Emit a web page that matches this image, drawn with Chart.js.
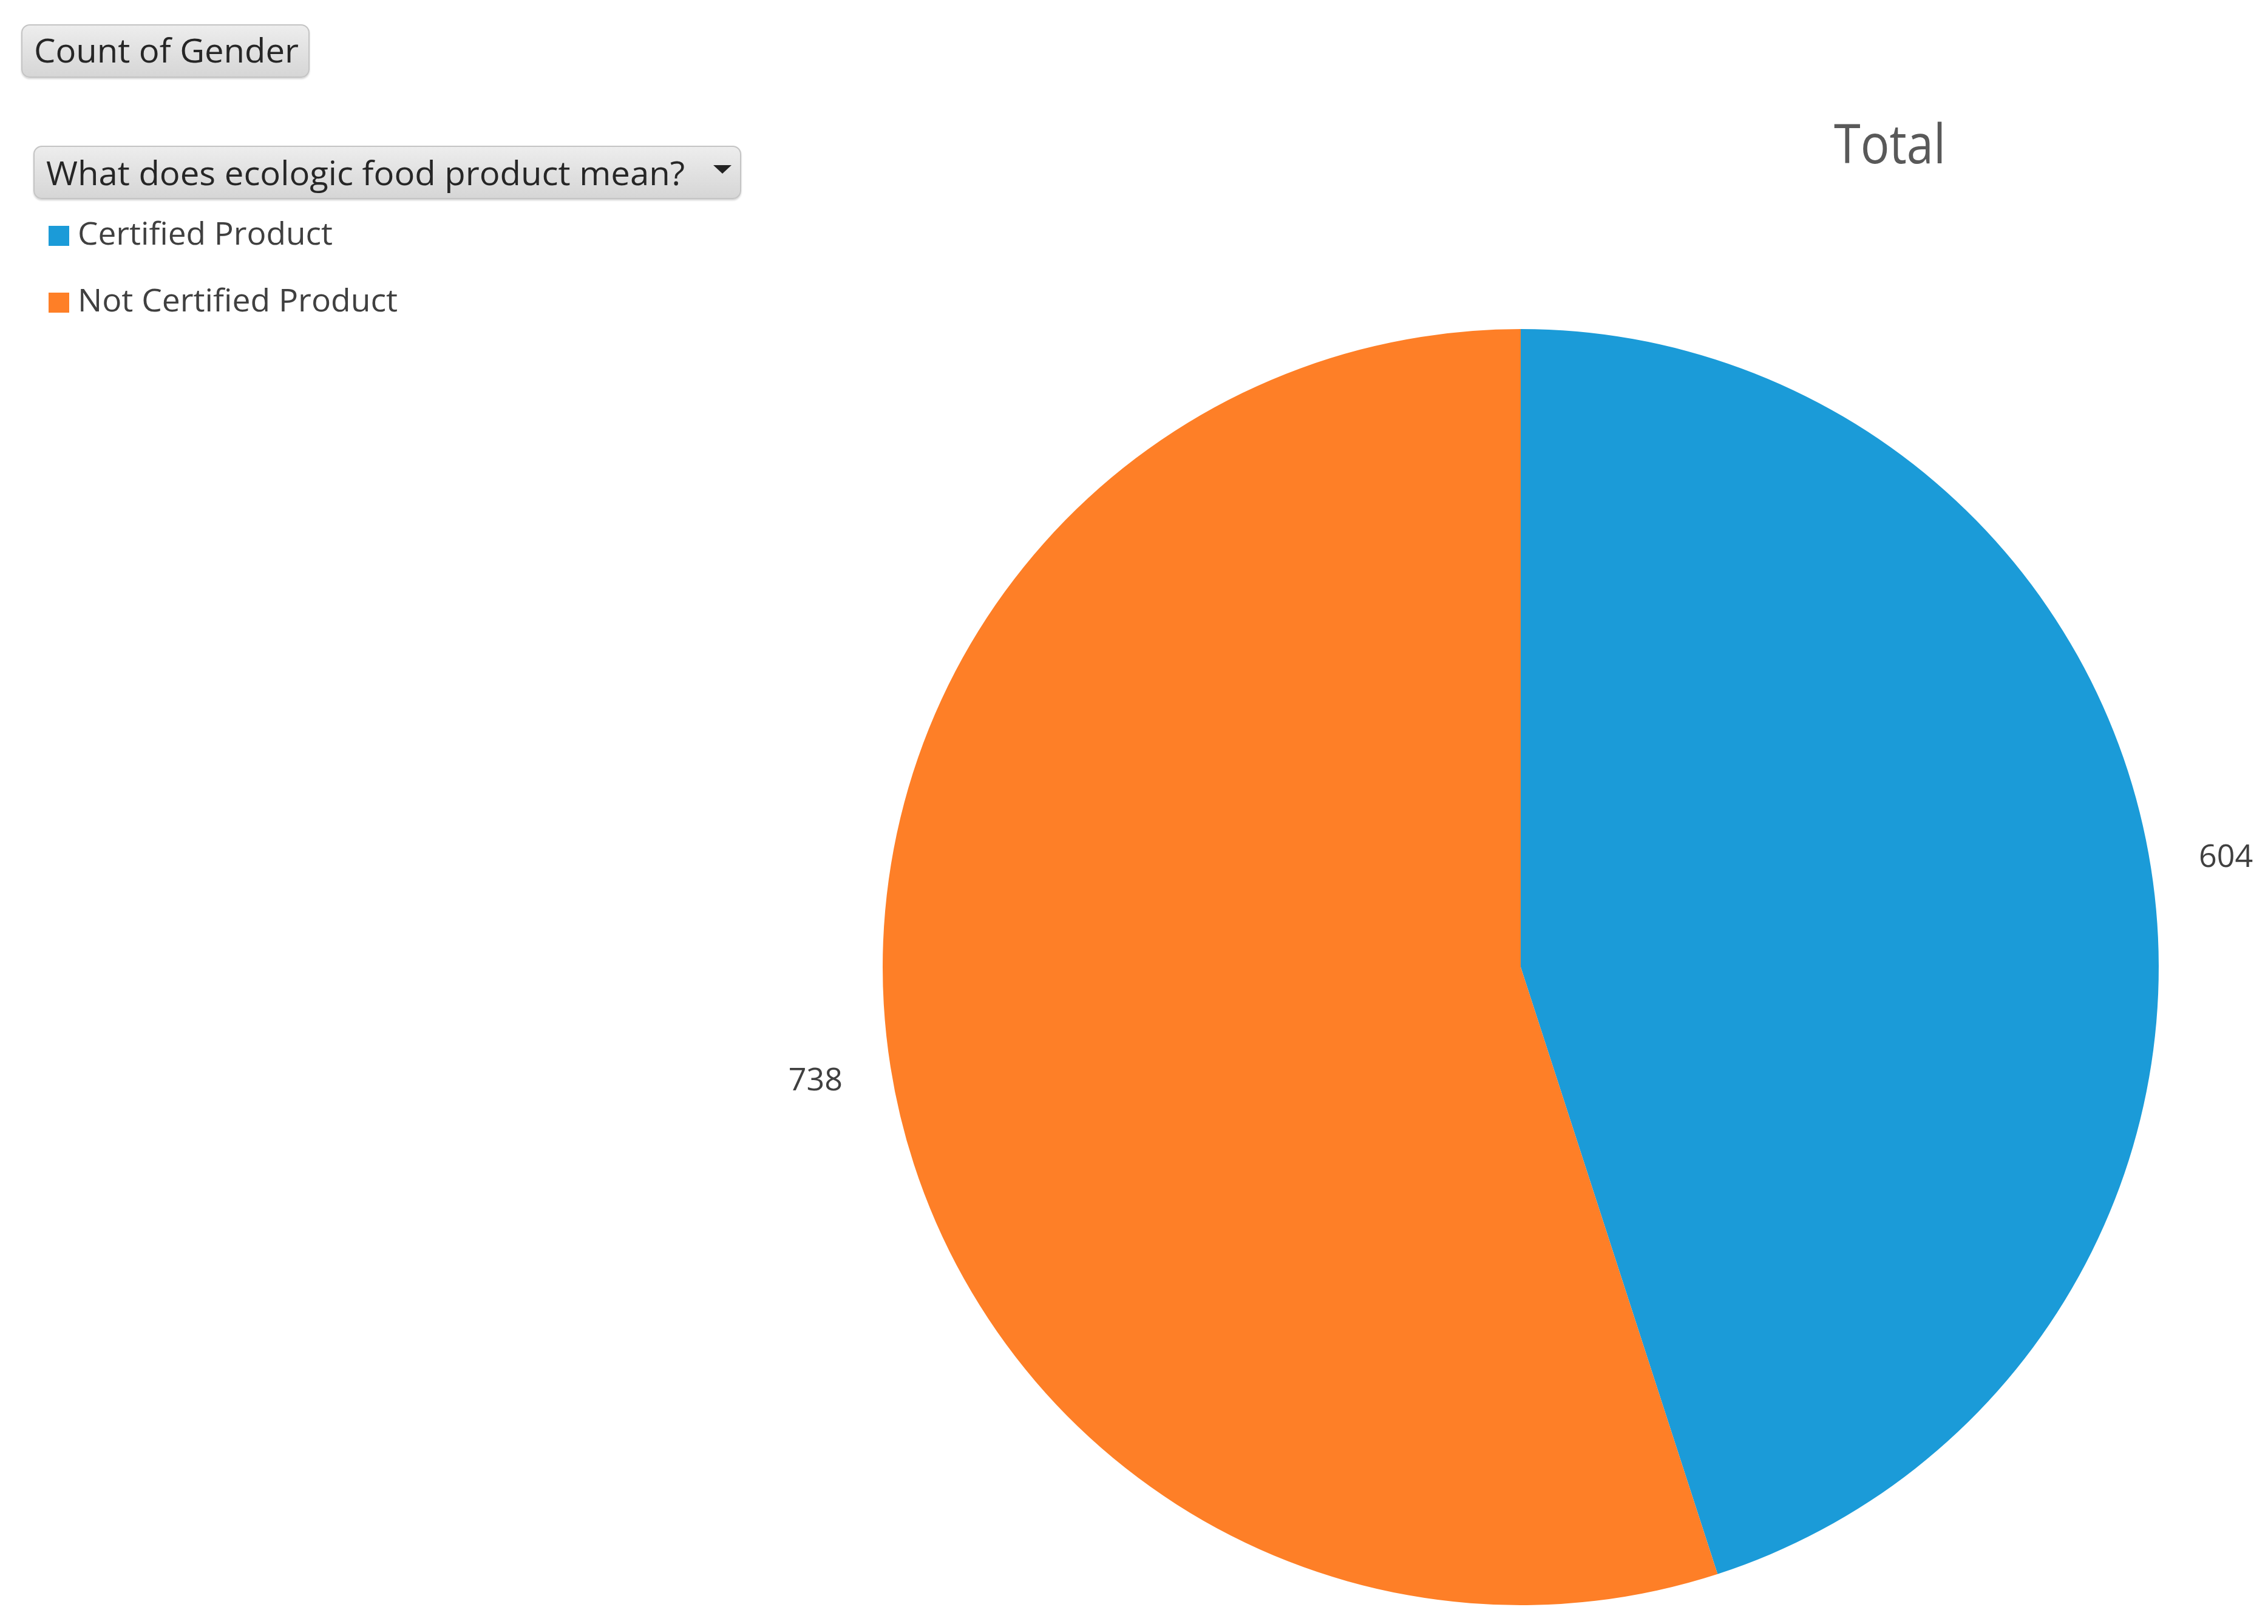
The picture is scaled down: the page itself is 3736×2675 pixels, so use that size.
<!DOCTYPE html>
<html lang="en">
<head>
  <meta charset="UTF-8">
  <title>Count of Gender</title>
  <!-- Chart.js Library -->
  <script src="https://cdn.jsdelivr.net/npm/chart.js"></script>
  <style>
    body { margin: 0; background: #fff; }
    .page {
      position: relative;
      width: 3736px;
      height: 2675px;
      overflow: hidden;
      font-family: "Open Sans", sans-serif;
      color: #404040;
    }
    .page canvas { position: absolute; left: 0; top: 0; }
    /* pivot chart field buttons */
    .field-btn {
      position: absolute;
      box-sizing: border-box;
      height: 88px;
      top: 0;
      border: 2px solid #c4c4c4;
      border-radius: 14px;
      background: linear-gradient(#ededed, #d6d6d6);
      box-shadow: 0 2px 3px rgba(0, 0, 0, 0.18);
    }
    .drop-arrow {
      position: absolute;
      width: 0; height: 0;
      border-left: 15px solid transparent;
      border-right: 15px solid transparent;
      border-top: 14px solid #222;
    }
    .txt {
      position: absolute;
      white-space: nowrap;
      line-height: 1;
      transform-origin: 0 0;
    }
    .swatch { position: absolute; width: 34px; height: 33px; }
  </style>
</head>
<body>
  <div class="page" id="page">
    <canvas id="pieChart" width="3736" height="2675"></canvas>

    <div class="field-btn" style="left:35px; top:40px; width:475px;"></div>
    <div class="txt" id="valueBtn" style="color:#262626;"></div>

    <div class="field-btn" style="left:55px; top:240px; width:1166px;"></div>
    <div class="txt" id="axisBtn" style="color:#262626;"></div>
    <div class="drop-arrow" style="left:1175px; top:272px;"></div>

    <div id="legend"></div>
    <div class="txt" id="chartTitle" style="color:#595959;"></div>
  </div>

  <script>
    // chart data
    const valueField = 'Count of Gender';
    const axisField = 'What does ecologic food product mean?';
    const chartTitle = 'Total';
    const categories = ['Certified Product', 'Not Certified Product'];
    const counts = [604, 738];
    const sliceColors = ['#1b9bd8', '#fe7f27'];

    // put a text div so its baseline sits at `baseline`, optionally squeeze it to `width`
    function placeText(el, text, left, baseline, size, width) {
      el.textContent = text;
      el.style.fontSize = size + 'px';
      el.style.left = left + 'px';
      el.style.top = '0px';
      const probe = document.createElement('span');
      probe.style.cssText = 'display:inline-block;width:0;height:0;vertical-align:baseline';
      el.appendChild(probe);
      const base = probe.getBoundingClientRect().top - el.getBoundingClientRect().top;
      el.removeChild(probe);
      el.style.top = (baseline - base) + 'px';
      if (width) {
        const w = el.getBoundingClientRect().width;
        el.style.transform = 'scaleX(' + (width / w) + ')';
      }
    }

    placeText(document.getElementById('valueBtn'), valueField, 56, 103, 55, 436);
    placeText(document.getElementById('axisBtn'), axisField, 76, 305, 55, 1052);
    placeText(document.getElementById('chartTitle'), chartTitle, 3021, 269, 89, 184);

    // html legend from the same arrays as the pie
    const legend = document.getElementById('legend');
    const legendBaselines = [403, 513];
    const legendWidths = [420, 527];
    categories.forEach((cat, i) => {
      const sw = document.createElement('div');
      sw.className = 'swatch';
      sw.style.left = '80px';
      sw.style.top = (legendBaselines[i] - 31) + 'px';
      sw.style.background = sliceColors[i];
      legend.appendChild(sw);
      const t = document.createElement('div');
      t.className = 'txt';
      legend.appendChild(t);
      placeText(t, cat, 128, legendBaselines[i], 51, legendWidths[i]);
    });

    // value labels outside each slice
    const outsideLabels = {
      id: 'outsideLabels',
      afterDatasetsDraw(chart) {
        const ctx = chart.ctx;
        const meta = chart.getDatasetMeta(0);
        ctx.save();
        ctx.font = '52px "Open Sans"';
        ctx.fillStyle = '#404040';
        ctx.textAlign = 'center';
        ctx.textBaseline = 'alphabetic';
        meta.data.forEach((arc, i) => {
          const p = arc.getProps(['x', 'y', 'startAngle', 'endAngle', 'outerRadius'], true);
          const mid = (p.startAngle + p.endAngle) / 2;
          const d = p.outerRadius + 125;
          ctx.fillText(String(chart.data.datasets[0].data[i]),
            p.x + Math.cos(mid) * d, p.y + Math.sin(mid) * d + 19);
        });
        ctx.restore();
      }
    };

    new Chart(document.getElementById('pieChart').getContext('2d'), {
      type: 'pie',
      data: {
        labels: categories,
        datasets: [{
          data: counts,
          backgroundColor: sliceColors,
          borderWidth: 0,
          hoverOffset: 0
        }]
      },
      options: {
        responsive: false,
        animation: false,
        events: [],
        layout: { padding: { left: 1454, right: 180, top: 542, bottom: 31 } },
        plugins: {
          legend: { display: false },
          tooltip: { enabled: false },
          title: { display: false }
        }
      },
      plugins: [outsideLabels]
    });
  </script>
</body>
</html>
